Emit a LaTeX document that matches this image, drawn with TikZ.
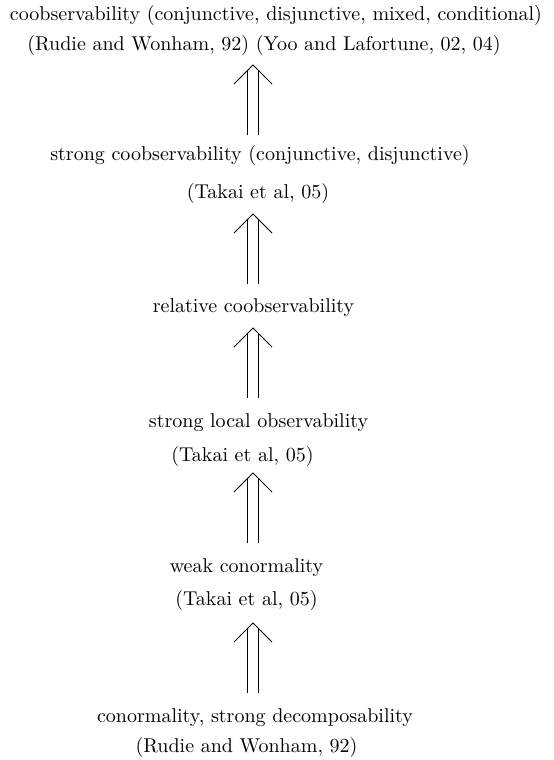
\documentclass[tikz,border=0pt]{standalone}
\begin{document}
\begin{tikzpicture}[x=0.5pt,y=-0.5pt,
  lbl/.style={anchor=base,inner sep=0pt,font=\fontsize{10pt}{12pt}\selectfont},
  shaft/.style={double,double distance=5.1pt,line width=0.4pt},
  head/.style={line width=0.4pt,line join=miter}]
\useasboundingbox (0,0) rectangle (553,760);
\node[lbl] (n1) at (276,20) {coobservability (conjunctive, disjunctive, mixed, conditional)};
\node[lbl] (n2) at (264,50) {(Rudie and Wonham, 92) (Yoo and Lafortune, 02, 04)};
\node[lbl] (n3) at (260,160) {strong coobservability (conjunctive, disjunctive)};
\node[lbl] (n4) at (258,198) {(Takai et al, 05)};
\node[lbl] (n5) at (253.5,312) {relative coobservability};
\node[lbl] (n6) at (258.5,427) {strong local observability};
\node[lbl] (n7) at (242.5,461) {(Takai et al, 05)};
\node[lbl] (n8) at (246.5,572) {weak conormality};
\node[lbl] (n9) at (246.5,605) {(Takai et al, 05)};
\node[lbl] (n10) at (255,722) {conormality, strong decomposability};
\node[lbl] (n11) at (246.5,752) {(Rudie and Wonham, 92)};
\foreach \i/\t/\b in {1/65/135, 2/214/284, 3/328/398, 4/473/543, 5/623/693}{
  \coordinate (t\i) at (253,\t);
  \coordinate (b\i) at (253,\b);
  \draw[shaft] (b\i) -- ([yshift=-2.75pt]t\i);
  \draw[head] ([shift={(-9.5pt,-9.5pt)}]t\i) -- (t\i) -- ([shift={(9.5pt,-9.5pt)}]t\i);
}
\end{tikzpicture}
\end{document}
